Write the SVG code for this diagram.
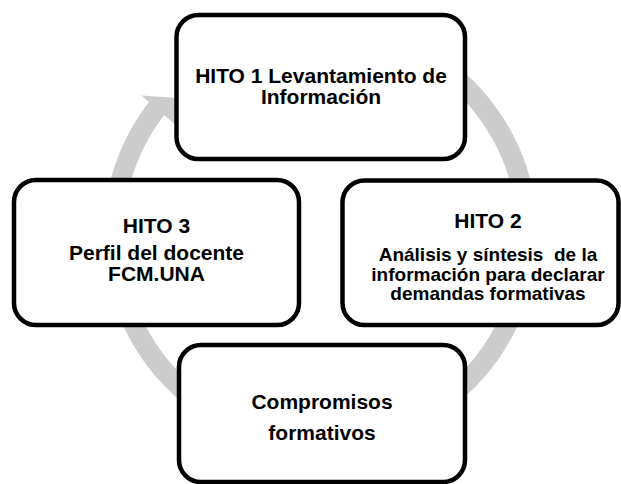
<svg xmlns="http://www.w3.org/2000/svg" width="621" height="484" viewBox="0 0 621 484">
<style>
.box{fill:#ffffff;stroke:#000000;stroke-width:4.5}
.t{font-family:"Liberation Sans",Arial,sans-serif;font-weight:bold;fill:#000000;text-anchor:middle}
.big{font-size:21px}
.small{font-size:19px}
.ring{fill:none;stroke:#CCCCCC;stroke-width:20}
</style>
<rect width="621" height="484" fill="#ffffff"/>
<g id="connectors">
<path class="ring" d="M 217 55.7 A 207 207 0 1 1 159.6 104.7"/>
<polygon points="141.5,95.5 192,99 178,127" fill="#CCCCCC"/>
</g>
<g id="hito1">
<rect class="box" x="176.5" y="15" width="288.5" height="144" rx="22"/>
<text class="t big" x="321" y="82.7">HITO 1 Levantamiento de</text>
<text class="t big" x="321" y="103.5">Información</text>
</g>
<g id="hito2">
<rect class="box" x="342.5" y="180.5" width="276" height="144.5" rx="22"/>
<text class="t big" x="488" y="228.3">HITO 2</text>
<text class="t small" x="488" y="261" xml:space="preserve">Análisis y síntesis  de la</text>
<text class="t small" x="488" y="280.5">información para declarar</text>
<text class="t small" x="488" y="300">demandas formativas</text>
</g>
<g id="hito3">
<rect class="box" x="14" y="180" width="285" height="145" rx="22"/>
<text class="t big" x="156.5" y="233.3">HITO 3</text>
<text class="t big" x="156.5" y="260">Perfil del docente</text>
<text class="t big" x="156.5" y="281">FCM.UNA</text>
</g>
<g id="compromisos">
<rect class="box" x="179" y="345" width="286" height="137" rx="22"/>
<text class="t big" x="322" y="409.3">Compromisos</text>
<text class="t big" x="322" y="439.5">formativos</text>
</g>
</svg>
